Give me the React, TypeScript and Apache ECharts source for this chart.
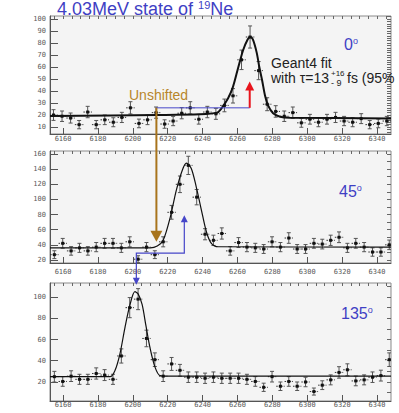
import React, { useEffect, useRef } from 'react';
import * as echarts from 'echarts';

// ---- data ----
// bin centres (energy channel) for the 0 degree histogram (40 bins)
const bins0 = [6154.5, 6159.4, 6164.3, 6169.2, 6174.1, 6179.0, 6183.9, 6188.8, 6193.7, 6198.6,
  6203.5, 6208.4, 6213.3, 6218.2, 6223.1, 6228.0, 6232.9, 6237.8, 6242.7, 6247.6,
  6252.5, 6257.4, 6262.3, 6267.2, 6272.1, 6277.0, 6281.9, 6286.8, 6291.7, 6296.6,
  6301.5, 6306.4, 6311.3, 6316.2, 6321.1, 6326.0, 6330.9, 6335.8, 6340.7, 6345.6];
// bin centres for the 45 and 135 degree histograms (41 bins)
const bins45 = [6155.0, 6159.8, 6164.6, 6169.4, 6174.2, 6179.0, 6183.8, 6188.6, 6193.4, 6198.2,
  6203.0, 6207.8, 6212.6, 6217.4, 6222.2, 6227.0, 6231.8, 6236.6, 6241.4, 6246.2,
  6251.0, 6255.8, 6260.6, 6265.4, 6270.2, 6275.0, 6279.8, 6284.6, 6289.4, 6294.2,
  6299.0, 6303.8, 6308.6, 6313.4, 6318.2, 6323.0, 6327.8, 6332.6, 6337.4, 6342.2, 6347.0];
const bins135 = bins45;

const counts0 = [20, 19, 17.5, 12, 22.5, 12, 16, 14, 18, 26,
  13, 16, 22, 12.5, 15, 21.5, 26, 16.5, 22.5, 21,
  28, 36, 66, 85, 57, 29, 23, 19, 22, 13.5,
  16.5, 14, 16.5, 18, 15, 14, 17, 12, 13, 15];
const counts45 = [27, 42, 32, 36, 32, 37, 42, 42, 36, 44,
  21, 37, 27, 44, 83, 120, 145, 103, 54, 46,
  55, 32, 43, 37, 36, 34.5, 44, 37, 49, 34.5,
  34.5, 42, 41, 46, 50, 36, 42, 37, 30.5, 30.5, 40];
const counts135 = [25, 20.5, 25.5, 22.5, 22.5, 28, 26.5, 22.5, 44.5, 90,
  98, 61, 41, 25.5, 37, 31, 24.5, 24.5, 23.5, 24.5,
  23.5, 23.5, 23.5, 22.5, 20.5, 15, 25, 16, 20.5, 16,
  20, 11, 17, 22, 29, 31.5, 21, 22, 24.5, 26, 41];

// fit curves: [energy, counts]
const fit0 = [[6152.5, 19.2], [6214, 20], [6238.5, 20.6], [6248.3, 22], [6250.5, 25], [6254.6, 34],
  [6257.4, 43.5], [6260.3, 59], [6263.2, 74], [6265.8, 83], [6267.3, 85], [6268.8, 83], [6271.0, 72],
  [6272.5, 60], [6274.1, 49], [6275.8, 36], [6277.5, 28], [6280.4, 21.5], [6284.4, 18.6],
  [6290, 17.8], [6348, 17.2]];
const fit45 = [[6152.5, 36], [6210, 36], [6214, 38.5], [6217.4, 46], [6221.5, 77], [6224.9, 112],
  [6228.4, 139], [6230.7, 148], [6233.5, 141], [6236.4, 116], [6239.3, 86], [6242.2, 57],
  [6245, 42], [6249, 37.5], [6348, 37]];
const fit135 = [[6152.5, 25], [6186.9, 25], [6189.8, 31], [6192.6, 46.5], [6195.5, 71.5],
  [6198.4, 93], [6201.2, 105], [6203, 103], [6205.3, 93], [6207.5, 73], [6209.8, 52.5],
  [6212.7, 34], [6215.6, 26], [6220, 25.5], [6348, 25.5]];

const xTickLabels = [6160, 6180, 6200, 6220, 6240, 6260, 6280, 6300, 6320, 6340];
const yTicks0 = [10, 20, 30, 40, 50, 60, 70, 80, 90, 100];
const yTicks45 = [20, 40, 60, 80, 100, 120, 140, 160];
const yTicks135 = [20, 40, 60, 80, 100];

const xRange = [6152.5, 6348];
const yRange0 = [4.2, 102.5];
const yRange45 = [16, 164];
const yRange135 = [2.1, 113.2];

// annotation energies / levels
const unshiftedE = 6213.5;
const peak0E = 6267;
const peak45E = 6229.5;
const peak135E = 6202;

function range(a: number, b: number, s: number) {
  const out: number[] = [];
  for (let v = a; v <= b + 1e-9; v += s) out.push(+v.toFixed(3));
  return out;
}

export default function App() {
  const ref = useRef<HTMLDivElement>(null);
  useEffect(() => {
    const chart = echarts.init(ref.current!, null, { renderer: 'svg' });
    const grids = [
      { left: 50, top: 16, width: 341, height: 118 },
      { left: 50, top: 151, width: 341, height: 112 },
      { left: 50, top: 283, width: 341, height: 118 },
    ].map((g) => ({ ...g, show: true, borderColor: '#8a8a8a', borderWidth: 1, backgroundColor: '#f4f4f4' }));

    const lblFont = { fontFamily: 'DejaVu Sans Mono', fontSize: 7, color: '#5a5a5a' };
    const xMinor = range(6155, 6345, 5);
    const xMargins = [1, 5, 0];
    const xAxis: any[] = [];
    const yAxis: any[] = [];
    const yInfo = [
      { r: yRange0, t: yTicks0, minor: range(6, 102, 2) },
      { r: yRange45, t: yTicks45, minor: range(20, 160, 10) },
      { r: yRange135, t: yTicks135, minor: range(10, 110, 10) },
    ];
    for (let g = 0; g < 3; g++) {
      xAxis.push({
        type: 'value', gridIndex: g, min: xRange[0], max: xRange[1],
        axisLine: { show: true, onZero: false, lineStyle: { color: '#555', width: 1 } },
        axisTick: { show: true, inside: true, length: 6, customValues: xTickLabels, lineStyle: { color: '#555' } },
        axisLabel: { show: true, customValues: xTickLabels, margin: xMargins[g], formatter: (v: number) => String(v), ...lblFont },
        splitLine: { show: false },
      });
      xAxis.push({
        type: 'value', gridIndex: g, min: xRange[0], max: xRange[1],
        axisLine: { show: false },
        axisTick: { show: true, inside: true, length: 3, customValues: xMinor, lineStyle: { color: '#666' } },
        axisLabel: { show: false },
        splitLine: { show: false },
      });
      const yi = yInfo[g];
      yAxis.push({
        type: 'value', gridIndex: g, min: yi.r[0], max: yi.r[1],
        axisLine: { show: true, onZero: false, lineStyle: { color: '#555', width: 1 } },
        axisTick: { show: true, inside: true, length: 8, customValues: yi.t, lineStyle: { color: '#555' } },
        axisLabel: { show: true, customValues: yi.t, margin: 4, formatter: (v: number) => String(v), ...lblFont },
        splitLine: { show: false },
      });
      yAxis.push({
        type: 'value', gridIndex: g, min: yi.r[0], max: yi.r[1],
        axisLine: { show: false },
        axisTick: { show: true, inside: true, length: 4, customValues: yi.minor, lineStyle: { color: '#666' } },
        axisLabel: { show: false },
        splitLine: { show: false },
      });
    }

    const errSeries = (bins: number[], counts: number[], g: number, halfW: number) => ({
      type: 'custom',
      xAxisIndex: 2 * g,
      yAxisIndex: 2 * g,
      clip: true,
      data: bins.map((b, i) => [b, counts[i]]),
      renderItem: (_p: any, api: any) => {
        const x = api.value(0);
        const y = api.value(1);
        const e = Math.sqrt(y);
        const c = api.coord([x, y]);
        const t = api.coord([x, y + e]);
        const b = api.coord([x, y - e]);
        const l = api.coord([x - halfW, y]);
        const r = api.coord([x + halfW, y]);
        return {
          type: 'group',
          children: [
            { type: 'line', shape: { x1: l[0], y1: c[1], x2: r[0], y2: c[1] }, style: { stroke: '#333', lineWidth: 1, lineDash: [1.5, 1] } },
            { type: 'line', shape: { x1: c[0], y1: t[1], x2: c[0], y2: b[1] }, style: { stroke: '#555', lineWidth: 1 } },
            { type: 'line', shape: { x1: c[0] - 2, y1: t[1], x2: c[0] + 2, y2: t[1] }, style: { stroke: '#555', lineWidth: 1 } },
            { type: 'line', shape: { x1: c[0] - 2, y1: b[1], x2: c[0] + 2, y2: b[1] }, style: { stroke: '#555', lineWidth: 1 } },
            { type: 'rect', shape: { x: c[0] - 1.5, y: c[1] - 1.5, width: 3, height: 3 }, style: { fill: '#111' } },
          ],
        };
      },
      z: 3,
    });
    const fitSeries = (data: number[][], g: number, w: number) => ({
      type: 'line', xAxisIndex: 2 * g, yAxisIndex: 2 * g, data, smooth: 0.3, symbol: 'none',
      lineStyle: { color: '#111', width: w }, z: 4, clip: true,
    });

    chart.setOption({
      animation: false,
      grid: grids,
      xAxis,
      yAxis,
      series: [
        fitSeries(fit0, 0, 2),
        fitSeries(fit45, 1, 1.2),
        fitSeries(fit135, 2, 1.2),
        errSeries(bins0, counts0, 0, 2.45),
        errSeries(bins45, counts45, 1, 2.4),
        errSeries(bins135, counts135, 2, 2.4),
      ],
    });

    const P = (g: number, x: number, y: number) => chart.convertToPixel({ xAxisIndex: 2 * g, yAxisIndex: 2 * g } as any, [x, y]) as number[];
    const blue = '#4646c8';
    const orange = '#a8741c';
    const red = '#e8141c';
    const textBlue = '#3f3fc4';

    const oTop = P(0, unshiftedE, 26);
    const oTip = P(1, unshiftedE, 44);
    const b0a = P(0, unshiftedE, 26);
    const b0b = P(0, peak0E, 26);
    const rTip = P(0, peak0E, 48);
    const b1a = P(1, peak135E, 29);
    const b1b = P(1, peak45E, 29);
    const b1Tip = P(1, peak45E, 79);
    const b2Tip = P(2, peak135E, 111.5);

    const arrowHead = (tip: number[], dir: number, h: number, hw: number, fill: string) => ({
      type: 'polygon',
      shape: { points: [[tip[0], tip[1]], [tip[0] - hw, tip[1] - dir * h], [tip[0] + hw, tip[1] - dir * h]] },
      style: { fill },
      z: 10,
    });

    const graphic: any[] = [
      { type: 'polyline', shape: { points: [b0a, b0b] }, style: { stroke: blue, lineWidth: 1, fill: 'none' }, z: 9 },
      { type: 'line', shape: { x1: oTop[0], y1: oTop[1], x2: oTip[0], y2: oTip[1] - 9 }, style: { stroke: orange, lineWidth: 2 }, z: 10 },
      arrowHead(oTip, 1, 11, 6, orange),
      { type: 'line', shape: { x1: b0b[0], y1: b0b[1], x2: rTip[0], y2: rTip[1] + 8 }, style: { stroke: red, lineWidth: 2 }, z: 10 },
      arrowHead(rTip, -1, 9, 4.5, red),
      { type: 'polyline', shape: { points: [[b2Tip[0], b2Tip[1] - 6], b1a, b1b, [b1Tip[0], b1Tip[1] + 6]] }, style: { stroke: blue, lineWidth: 1.2, fill: 'none' }, z: 9 },
      arrowHead(b1Tip, -1, 7, 3.5, blue),
      arrowHead(b2Tip, 1, 7, 3.5, blue),
      {
        type: 'text', x: 57, y: -1, z: 20,
        style: {
          text: '{a|4.03MeV state of }{s|19}{a|Ne}',
          verticalAlign: 'top',
          rich: {
            a: { fontFamily: 'Liberation Sans', fontSize: 18, fill: textBlue, lineHeight: 19, verticalAlign: 'bottom' },
            s: { fontFamily: 'Liberation Sans', fontSize: 11, fill: textBlue, lineHeight: 19, verticalAlign: 'top' },
          },
        },
      },
      ...[
        { t: '0', x: 344, y: 36 },
        { t: '45', x: 339, y: 183 },
        { t: '135', x: 341, y: 305 },
      ].map((d) => ({
        type: 'text', x: d.x, y: d.y, z: 20,
        style: {
          text: `{n|${d.t}}{o|o}`,
          verticalAlign: 'top',
          rich: {
            n: { fontFamily: 'Liberation Sans', fontSize: 16, fill: textBlue, lineHeight: 16, verticalAlign: 'bottom' },
            o: { fontFamily: 'Liberation Sans', fontSize: 9, fill: textBlue, lineHeight: 16, verticalAlign: 'top' },
          },
        },
      })),
      { type: 'text', x: 271, y: 56, z: 20, style: { text: 'Geant4 fit', fontFamily: 'Liberation Sans', fontSize: 14, fill: '#222', verticalAlign: 'top' } },
      { type: 'text', x: 271, y: 71, z: 20, style: { text: 'with τ=13', fontFamily: 'Liberation Sans', fontSize: 14, fill: '#222', verticalAlign: 'top' } },
      { type: 'text', x: 331, y: 69, z: 20, style: { text: '+16', fontFamily: 'Liberation Sans', fontSize: 8, fill: '#222', verticalAlign: 'top' } },
      { type: 'text', x: 331, y: 78, z: 20, style: { text: '- 9', fontFamily: 'Liberation Sans', fontSize: 9, fill: '#222', verticalAlign: 'top' } },
      { type: 'text', x: 347, y: 71, z: 20, style: { text: 'fs (95%', fontFamily: 'Liberation Sans', fontSize: 14, fill: '#222', verticalAlign: 'top' } },
      { type: 'text', x: 129, y: 88, z: 20, style: { text: 'Unshifted', fontFamily: 'Liberation Sans', fontSize: 14, fill: '#b8862b', verticalAlign: 'top' } },
    ];
    chart.setOption({ graphic });
    return () => chart.dispose();
  }, []);
  return <div ref={ref} style={{ position: 'fixed', left: 0, top: 0, width: 399, height: 413, background: '#ffffff' }} />;
}
